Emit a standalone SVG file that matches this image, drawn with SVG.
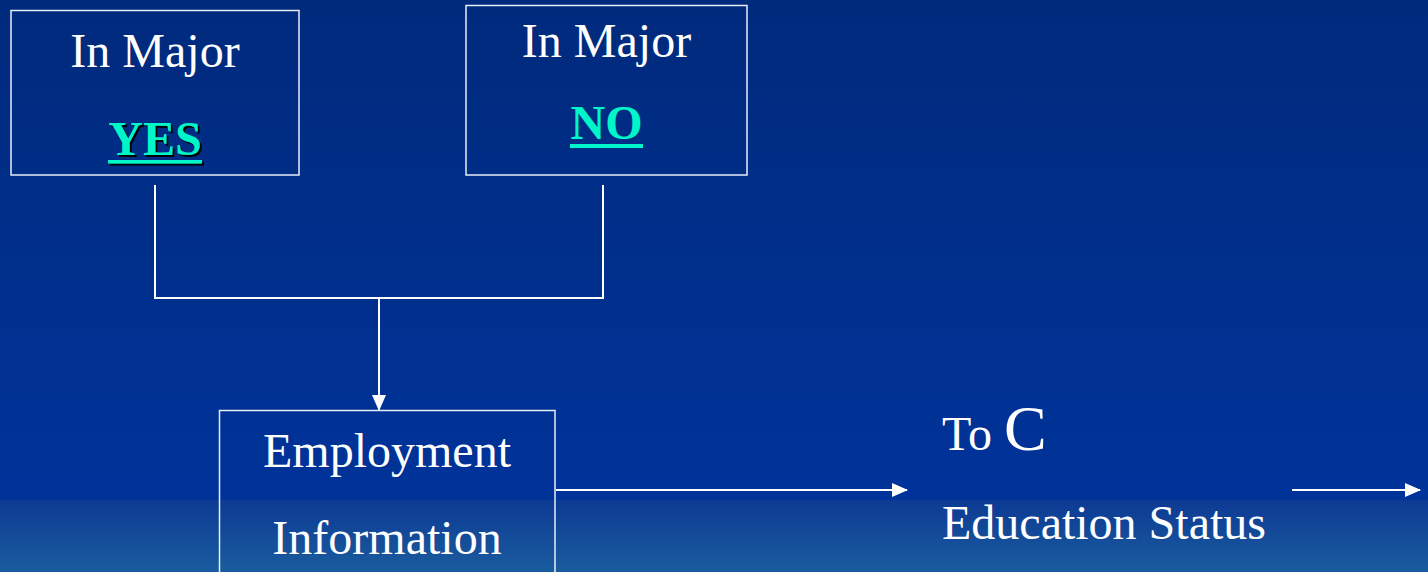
<svg xmlns="http://www.w3.org/2000/svg" width="1428" height="572" viewBox="0 0 1428 572">
<defs>
<linearGradient id="bgTop" x1="0" y1="0" x2="0" y2="1">
<stop offset="0" stop-color="#002a7c"/>
<stop offset="1" stop-color="#00339a"/>
</linearGradient>
<linearGradient id="bgBot" x1="0" y1="0" x2="0" y2="1">
<stop offset="0" stop-color="#0d3a94"/>
<stop offset="1" stop-color="#1a5c9e"/>
</linearGradient>
<marker id="arr" markerWidth="16" markerHeight="14" refX="15" refY="7" orient="auto" markerUnits="userSpaceOnUse">
<path d="M0,0 L16,7 L0,14 Z" fill="#ffffff"/>
</marker>
<filter id="sh" x="-10%" y="-10%" width="130%" height="130%">
<feDropShadow dx="2" dy="2" stdDeviation="0" flood-color="#000000"/>
</filter>
</defs>
<style>
.box{fill:none;stroke:#e8eef8;stroke-width:1.5}
.t{font-family:"Liberation Serif","Times New Roman",serif;font-size:48px;fill:#ffffff}
.hl{font-family:"Liberation Serif","Times New Roman",serif;font-size:48px;font-weight:bold;fill:#00f5c8}
.ul{fill:#00f5c8}
.ln{stroke:#ffffff;stroke-width:2;fill:none}
</style>
<rect x="0" y="0" width="1428" height="500" fill="url(#bgTop)"/>
<rect x="0" y="500" width="1428" height="72" fill="url(#bgBot)"/>

<g id="connectors">
<polyline class="ln" points="155,185 155,298 603,298 603,185"/>
<line class="ln" x1="379" y1="298" x2="379" y2="410" marker-end="url(#arr)"/>
<line class="ln" x1="556" y1="490" x2="907" y2="490" marker-end="url(#arr)"/>
<line class="ln" x1="1292" y1="490" x2="1420" y2="490" marker-end="url(#arr)"/>
</g>

<g id="node-yes">
<rect class="box" x="11" y="10.5" width="288" height="164.5"/>
<text class="t" x="155" y="67" text-anchor="middle">In Major</text>
<g filter="url(#sh)">
<text class="hl" x="155" y="155" text-anchor="middle">YES</text>
<rect class="ul" x="108" y="160" width="94" height="3.5"/>
</g>
</g>

<g id="node-no">
<rect class="box" x="466" y="5.5" width="281" height="169.5"/>
<text class="t" x="606.5" y="57" text-anchor="middle">In Major</text>
<text class="hl" x="606.5" y="139" text-anchor="middle">NO</text>
<rect class="ul" x="570" y="144" width="73" height="4"/>
</g>

<g id="node-employment">
<rect class="box" x="219.5" y="410.5" width="335.5" height="170"/>
<text class="t" x="387" y="467" text-anchor="middle">Employment</text>
<text class="t" x="387" y="554" text-anchor="middle">Information</text>
</g>

<g id="node-education">
<text class="t" x="942" y="450">To <tspan font-size="64">C</tspan></text>
<text class="t" x="942" y="539">Education Status</text>
</g>
</svg>
